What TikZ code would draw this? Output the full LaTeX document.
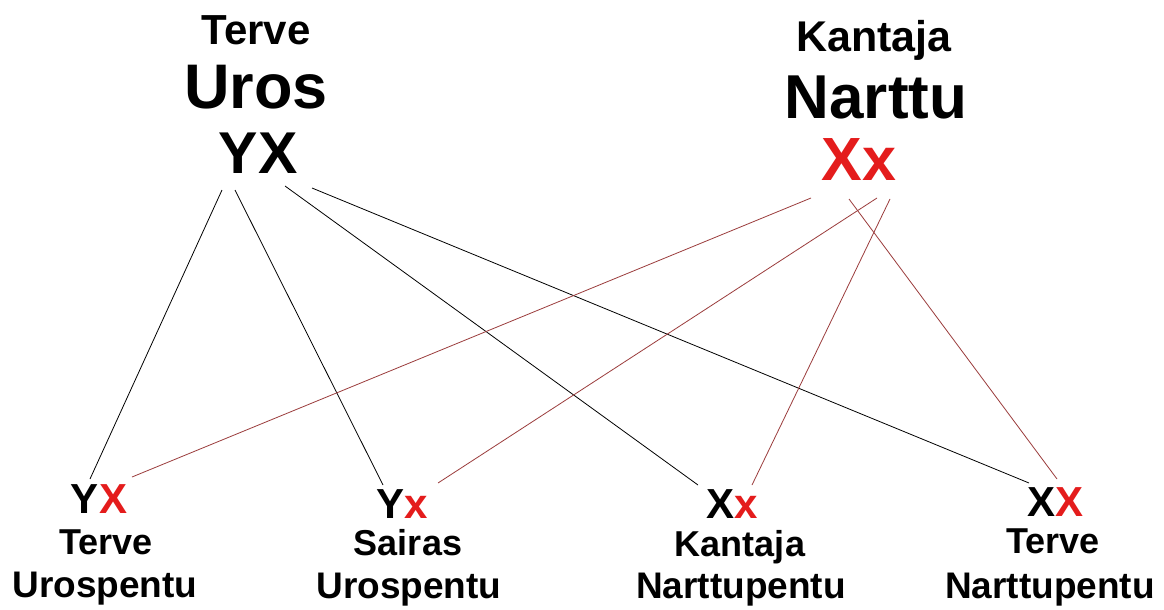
\documentclass[tikz,border=0pt]{standalone}
\usepackage{fontspec}
\setmainfont{Liberation Sans}
\definecolor{gred}{RGB}{228,28,28}
\definecolor{lred}{RGB}{155,60,60}
\newcommand\fsz[1]{\fontsize{#1}{#1}\selectfont}
\begin{document}
\begin{tikzpicture}[x=1pt,y=-1pt,
  txt/.style={inner sep=0pt, anchor=base},
  bl/.style={draw=black, line width=0.8pt},
  rl/.style={draw=lred, line width=0.8pt}]
\useasboundingbox (0,0) rectangle (1164,610);
\fill[white] (0,0) rectangle (1164,610);
% father
\node[txt, font={\bfseries\fsz{42}}] (fT) at (256,45) {Terve};
\node[txt, font={\bfseries\fsz{63}}] (fU) at (256,108) {Uros};
\node[txt, font={\bfseries\fsz{59}}] (fG) at (258,173) {YX};
% mother
\node[txt, font={\bfseries\fsz{43}}] (mK) at (874,52) {Kantaja};
\node[txt, font={\bfseries\fsz{62}}] (mN) at (876,118) {Narttu};
\node[txt, font={\bfseries\fsz{61}}, text=gred] (mG) at (859,180) {Xx};
% offspring genotypes
\node[txt, font={\bfseries\fsz{42}}] (g1) at (99,513) {Y\textcolor{gred}{X}};
\node[txt, font={\bfseries\fsz{42}}] (g2) at (402,518) {Y\textcolor{gred}{x}};
\node[txt, font={\bfseries\fsz{42}}] (g3) at (732,518) {X\textcolor{gred}{x}};
\node[txt, font={\bfseries\fsz{42}}] (g4) at (1055,516) {X\textcolor{gred}{X}};
% offspring labels
\node[txt, font={\bfseries\fsz{36}}] (a1) at (106,554) {Terve};
\node[txt, font={\bfseries\fsz{37}}] (b1) at (105,597) {Urospentu};
\node[txt, font={\bfseries\fsz{36}}] (a2) at (408,555) {Sairas};
\node[txt, font={\bfseries\fsz{37}}] (b2) at (409,598) {Urospentu};
\node[txt, font={\bfseries\fsz{36}}] (a3) at (740,556) {Kantaja};
\node[txt, font={\bfseries\fsz{37}}] (b3) at (741,598) {Narttupentu};
\node[txt, font={\bfseries\fsz{36}}] (a4) at (1053,553) {Terve};
\node[txt, font={\bfseries\fsz{37}}] (b4) at (1050,598) {Narttupentu};
% connector ends
\coordinate (fa) at (222,190);
\coordinate (fb) at (235,190);
\coordinate (fc) at (285,186);
\coordinate (fd) at (312,188);
\coordinate (ma) at (811,198);
\coordinate (mb) at (877,198);
\coordinate (mc) at (890,199);
\coordinate (md) at (849,199);
\coordinate (e1b) at (90,479);
\coordinate (e2b) at (383,485);
\coordinate (e3b) at (698,485);
\coordinate (e4b) at (1029,483);
\coordinate (e1r) at (132,477);
\coordinate (e2r) at (438,483);
\coordinate (e3r) at (752,485);
\coordinate (e4r) at (1057,479);
\draw[bl] (fa) -- (e1b);
\draw[bl] (fb) -- (e2b);
\draw[bl] (fc) -- (e3b);
\draw[bl] (fd) -- (e4b);
\draw[rl] (ma) -- (e1r);
\draw[rl] (mb) -- (e2r);
\draw[rl] (mc) -- (e3r);
\draw[rl] (md) -- (e4r);
\end{tikzpicture}
\end{document}
